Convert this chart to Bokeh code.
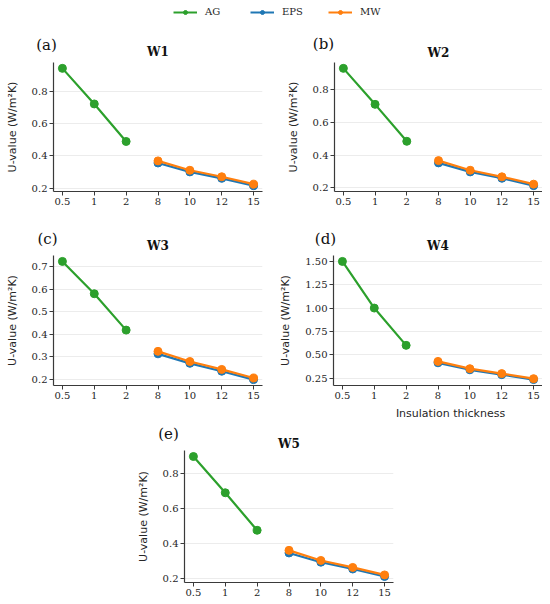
import numpy as np
from bokeh.plotting import figure
from bokeh.layouts import column, row, Spacer
from bokeh.models import Range1d, FixedTicker, Legend, LegendItem, NumeralTickFormatter
from bokeh.core.properties import value
from bokeh.embed import file_html
from bokeh.resources import INLINE

# ---------------- data ----------------
thickness = ["0.5", "1", "2", "8", "10", "12", "15"]
ag_thickness = ["0.5", "1", "2"]
ins_thickness = ["8", "10", "12", "15"]
series_names = ["AG", "EPS", "MW"]

w1_ag = [0.94, 0.72, 0.488]
w1_eps = [0.355, 0.300, 0.260, 0.215]
w1_mw = [0.368, 0.310, 0.270, 0.224]

w2_ag = [0.93, 0.71, 0.484]
w2_eps = [0.352, 0.297, 0.258, 0.213]
w2_mw = [0.366, 0.307, 0.267, 0.222]

w3_ag = [0.723, 0.580, 0.419]
w3_eps = [0.314, 0.272, 0.237, 0.200]
w3_mw = [0.325, 0.280, 0.245, 0.207]

w4_ag = [1.50, 1.00, 0.60]
w4_eps = [0.413, 0.338, 0.286, 0.233]
w4_mw = [0.428, 0.350, 0.297, 0.243]

w5_ag = [0.90, 0.692, 0.477]
w5_eps = [0.347, 0.294, 0.255, 0.212]
w5_mw = [0.362, 0.304, 0.264, 0.221]

yticks_a = [0.2, 0.4, 0.6, 0.8]
yticks_c = [0.2, 0.3, 0.4, 0.5, 0.6, 0.7]
yticks_d = [0.25, 0.50, 0.75, 1.00, 1.25, 1.50]

panel_titles = ["W1", "W2", "W3", "W4", "W5"]
panel_letters = ["(a)", "(b)", "(c)", "(d)", "(e)"]
x_label = "Insulation thickness"
y_label = "U-value (W/m²K)"

colors = {"AG": "#2ca02c", "EPS": "#1f77b4", "MW": "#ff7f0e"}
SERIF = "DejaVu Serif"
SANS = "DejaVu Sans"
AXIS_COLOR = "#3a3a3a"
TEXT_COLOR = "#262626"
PAGE_W = 542


def idx(labels):
    return [thickness.index(t) for t in labels]


def make_panel(ag, eps, mw, yticks, fmt, width, height, bl, br, bb):
    allv = ag + eps + mw
    lo, hi = min(allv), max(allv)
    pad = 0.05 * (hi - lo)
    p = figure(width=width, height=height,
               x_range=Range1d(-0.28, len(thickness) - 1 + 0.28),
               y_range=Range1d(lo - pad, hi + pad),
               toolbar_location=None, output_backend="svg",
               min_border_left=bl, min_border_right=br,
               min_border_top=0, min_border_bottom=bb)
    p.outline_line_color = None
    p.xgrid.visible = False
    p.ygrid.grid_line_color = "#ececec"
    p.ygrid.grid_line_width = 1
    p.xaxis.ticker = FixedTicker(ticks=list(range(len(thickness))))
    p.xaxis.major_label_overrides = {i: t for i, t in enumerate(thickness)}
    p.yaxis.ticker = FixedTicker(ticks=yticks)
    p.yaxis.formatter = NumeralTickFormatter(format=fmt)
    for ax in (p.xaxis[0], p.yaxis[0]):
        ax.axis_line_color = AXIS_COLOR
        ax.axis_line_width = 1.2
        ax.major_tick_line_color = AXIS_COLOR
        ax.major_tick_line_width = 1
        ax.major_tick_out = 4
        ax.major_tick_in = 0
        ax.minor_tick_line_color = None
        ax.major_label_text_font = SERIF
        ax.major_label_text_font_size = "10px"
        ax.major_label_text_color = TEXT_COLOR
        ax.major_label_standoff = 2
    p.yaxis.axis_label = y_label
    p.yaxis.axis_label_text_font = SANS
    p.yaxis.axis_label_text_font_size = "11px"
    p.yaxis.axis_label_text_font_style = "normal"
    p.yaxis.axis_label_text_color = TEXT_COLOR
    p.yaxis.axis_label_standoff = 10

    xa = idx(ag_thickness)
    xi = idx(ins_thickness)
    for name, xs, ys in (("AG", xa, ag), ("EPS", xi, eps), ("MW", xi, mw)):
        p.line(xs, ys, line_color=colors[name], line_width=2.2)
        p.scatter(xs, ys, fill_color=colors[name], line_color=colors[name], size=8)
    return p


def make_header(height, titles, title_pos, letters, letter_pos):
    h = figure(width=PAGE_W, height=height,
               x_range=Range1d(0, PAGE_W), y_range=Range1d(height, 0),
               toolbar_location=None, output_backend="svg",
               x_axis_location=None, y_axis_location=None, min_border=0)
    h.grid.visible = False
    h.outline_line_color = None
    h.text(x=[p[0] for p in title_pos], y=[p[1] for p in title_pos], text=titles,
           text_font=value(SERIF), text_font_size="12px", text_font_style="bold",
           text_color="#111111", text_align="center", text_baseline="middle")
    h.text(x=[p[0] for p in letter_pos], y=[p[1] for p in letter_pos], text=letters,
           text_font=value(SERIF), text_font_size="15px",
           text_color="#111111", text_align="center", text_baseline="middle")
    return h


# ---------------- header rows ----------------
hA_h = 62
hA = make_header(hA_h, panel_titles[0:2], [(157.5, 51), (438, 52)],
                 panel_letters[0:2], [(46, 44), (323, 43)])
items = []
for name in series_names:
    r1 = hA.line(np.array([np.nan]), np.array([np.nan]), line_color=colors[name], line_width=2)
    r2 = hA.scatter(np.array([np.nan]), np.array([np.nan]), fill_color=colors[name],
                    line_color=colors[name], size=6)
    items.append(LegendItem(label=name, renderers=[r1, r2]))
leg = Legend(items=items, orientation="horizontal", location=(173, hA_h - 17),
             border_line_color=None, background_fill_alpha=0, padding=0, margin=0,
             spacing=25, glyph_width=24, glyph_height=10, label_height=10,
             label_standoff=8, label_text_font=SERIF, label_text_font_size="10px",
             label_text_color=TEXT_COLOR)
hA.add_layout(leg, "center")

hB = make_header(45, panel_titles[2:4], [(157.5, 35), (437.5, 35)],
                 panel_letters[2:4], [(47, 28), (325, 28)])
hC = make_header(47, panel_titles[4:5], [(288.5, 40)],
                 panel_letters[4:5], [(168, 30)])
hC.text(x=[450], y=[10], text=[x_label], text_font=value(SANS), text_font_size="11px",
        text_color=TEXT_COLOR, text_align="center", text_baseline="middle")

# ---------------- panels ----------------
pa = make_panel(w1_ag, w1_eps, w1_mw, yticks_a, "0.0", 275, 148, 53, 13, 19)
pb = make_panel(w2_ag, w2_eps, w2_mw, yticks_a, "0.0", 267, 148, 59, 0, 19)
pc = make_panel(w3_ag, w3_eps, w3_mw, yticks_c, "0.0", 275, 148, 53, 13, 18)
pd = make_panel(w4_ag, w4_eps, w4_mw, yticks_d, "0.00", 267, 148, 58, 0, 18)
pe = make_panel(w5_ag, w5_eps, w5_mw, yticks_a, "0.0", 278, 150, 59, 10, 18)

layout = column(hA, row(pa, pb), hB, row(pc, pd), hC,
                row(Spacer(width=125, height=150), pe))

open("out.html", "w").write(file_html(layout, INLINE))
